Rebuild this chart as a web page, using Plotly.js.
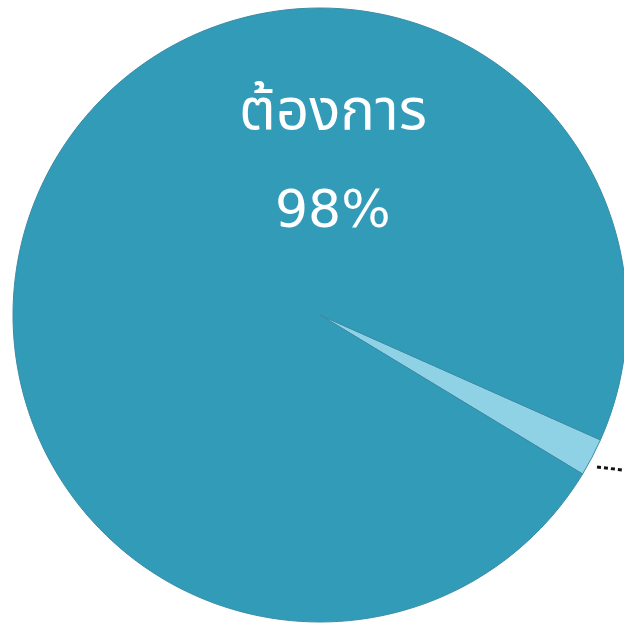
<!DOCTYPE html>
<html>
<head>
<meta charset="utf-8">
<script src="https://cdn.plot.ly/plotly-3.0.1.min.js"></script>
<style>
html,body{margin:0;padding:0;overflow:hidden;background:#fff;}
#chart{width:640px;height:627px;}
</style>
</head>
<body>
<div id="chart"></div>
<script>
// Data
var labels = ["ไม่ต้องการ", "ต้องการ"];
var values = [2, 98];
var colors = ["#8fd2e6", "#329bb8"];

var total = values.reduce(function(a, b){ return a + b; }, 0);
var mainPct = Math.round(values[1] / total * 100) + "%";

var W = 640, H = 627;

var trace = {
  type: "pie",
  labels: labels,
  values: values,
  sort: false,
  direction: "clockwise",
  rotation: 114,
  textinfo: "none",
  hoverinfo: "label+percent",
  marker: {
    colors: colors,
    line: {color: "#3a8ca6", width: 1}
  },
  domain: {x: [13 / W, 627 / W], y: [5 / H, 619 / H]},
  showlegend: false
};

var layout = {
  width: W,
  height: H,
  margin: {l: 0, r: 0, t: 0, b: 0},
  paper_bgcolor: "#ffffff",
  showlegend: false,
  font: {family: "Noto Sans, 'Noto Sans Thai', sans-serif"},
  annotations: [
    {
      text: labels[1],
      x: 333 / W, y: 1 - 106 / H,
      xref: "paper", yref: "paper",
      xanchor: "center", yanchor: "middle",
      showarrow: false,
      font: {size: 58, color: "#ffffff", family: "Noto Sans, 'Noto Sans Thai', sans-serif"}
    },
    {
      text: mainPct,
      x: 333 / W, y: 1 - 209 / H,
      xref: "paper", yref: "paper",
      xanchor: "center", yanchor: "middle",
      showarrow: false,
      font: {size: 52, color: "#ffffff", family: "DejaVu Sans, sans-serif"}
    }
  ],
  shapes: [
    {
      type: "line", xref: "paper", yref: "paper",
      x0: 597 / W, y0: 1 - 467 / H,
      x1: 1, y1: 1 - 472 / H,
      line: {color: "#111111", width: 3, dash: "4px,3px"}
    }
  ]
};

Plotly.newPlot("chart", [trace], layout, {displayModeBar: false, staticPlot: true});
</script>
</body>
</html>
